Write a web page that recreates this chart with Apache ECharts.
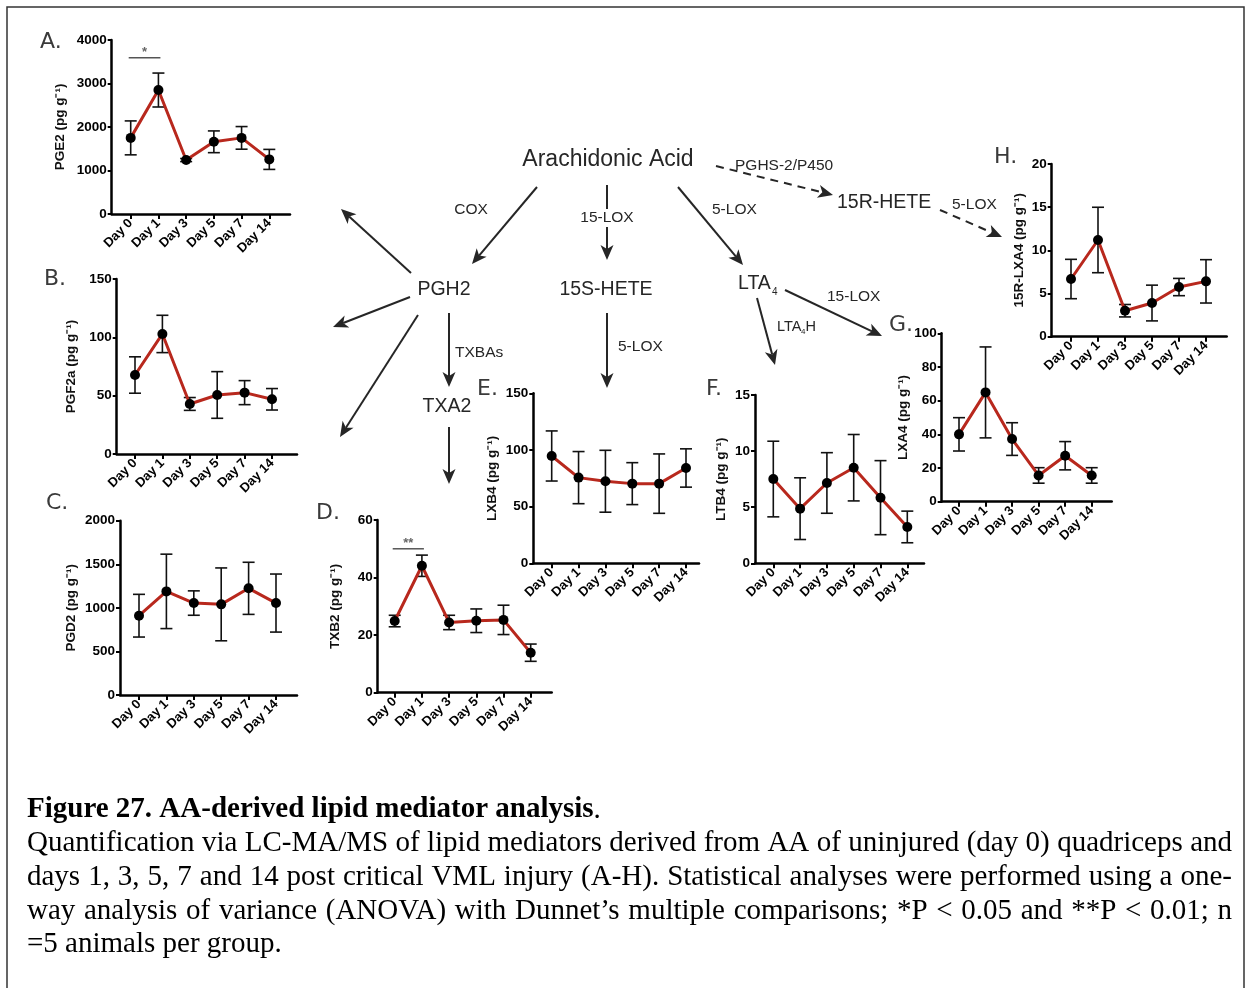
<!DOCTYPE html>
<html><head><meta charset="utf-8">
<script src="https://cdn.jsdelivr.net/npm/echarts@6/dist/echarts.min.js"></script>
<style>html,body{margin:0;padding:0;background:#fff}#c{width:1250px;height:988px}</style>
</head><body><div id="c"></div>
<script>
// ---------------- DATA ----------------
const days = ['Day 0', 'Day 1', 'Day 3', 'Day 5', 'Day 7', 'Day 14'];

const pge2Mean = [1750, 2850, 1240, 1660, 1750, 1255];
const pge2Err  = [390, 390, 35, 250, 260, 230];
const pge2Ticks = [0, 1000, 2000, 3000, 4000];

const pgf2aMean = [67.7, 102.9, 42.9, 50.6, 52.6, 46.9];
const pgf2aErr  = [15.6, 16.0, 5.5, 20.0, 10.3, 9.2];
const pgf2aTicks = [0, 50, 100, 150];

const pgd2Mean = [910, 1189, 1055, 1040, 1224, 1055];
const pgd2Err  = [245, 427, 140, 418, 299, 333];
const pgd2Ticks = [0, 500, 1000, 1500, 2000];

const txb2Mean = [24.9, 44.1, 24.4, 25.0, 25.3, 13.9];
const txb2Err  = [2.0, 3.7, 2.5, 4.1, 5.1, 3.0];
const txb2Ticks = [0, 20, 40, 60];

const lxb4Mean = [94.7, 75.6, 72.4, 70.3, 70.3, 84.1];
const lxb4Err  = [22.1, 23.0, 27.3, 18.5, 26.2, 16.9];
const lxb4Ticks = [0, 50, 100, 150];

const ltb4Mean = [7.51, 4.87, 7.16, 8.52, 5.85, 3.24];
const ltb4Err  = [3.37, 2.75, 2.70, 2.96, 3.30, 1.41];
const ltb4Ticks = [0, 5, 10, 15];

const lxa4Mean = [40.0, 64.9, 37.2, 15.6, 27.3, 15.6];
const lxa4Err  = [9.9, 27.0, 9.7, 4.6, 8.4, 4.6];
const lxa4Ticks = [0, 20, 40, 60, 80, 100];

const r15lxa4Mean = [6.68, 11.2, 3.01, 3.90, 5.75, 6.41];
const r15lxa4Err  = [2.28, 3.79, 0.72, 2.07, 1.00, 2.51];
const r15lxa4Ticks = [0, 5, 10, 15, 20];

// significance brackets: [fromIndex, toIndex, yValue, label]
const pge2Sig = [[0, 1, 3590, '*']];
const txb2Sig = [[0, 1, 50, '**']];

const panelLetters = ['A.', 'B.', 'C.', 'D.', 'E.', 'F.', 'G.', 'H.'];
const yTitles = ['PGE2', 'PGF2a', 'PGD2', 'TXB2', 'LXB4', 'LTB4', 'LXA4', '15R-LXA4'];

const captionTitle = 'Figure 27. AA-derived lipid mediator analysis';
const captionLines = [
  'Quantification via LC-MA/MS of lipid mediators derived from AA of uninjured (day 0) quadriceps and',
  'days 1, 3, 5, 7 and 14 post critical VML injury (A-H). Statistical analyses were performed using a one-',
  'way analysis of variance (ANOVA) with Dunnet\u2019s multiple comparisons; *P < 0.05 and **P < 0.01; n',
  '=5 animals per group.'
];

// ---------------- LAYOUT (pixels) ----------------
const panels = [
  {mean: pge2Mean,  err: pge2Err,  ticks: pge2Ticks,  sig: pge2Sig, L: {left:111.7, top:40,    right:290,   bottom:214,   x0:130.7, x14:269.3, gap:44, lx:40,  ly:42.5}},
  {mean: pgf2aMean, err: pgf2aErr, ticks: pgf2aTicks, sig: [],      L: {left:116.7, top:279,   right:297,   bottom:454,   x0:135,   x14:272,   gap:38, lx:44,  ly:279.5}},
  {mean: pgd2Mean,  err: pgd2Err,  ticks: pgd2Ticks,  sig: [],      L: {left:120,   top:520.7, right:297,   bottom:695,   x0:139,   x14:276,   gap:42, lx:46,  ly:503.5}},
  {mean: txb2Mean,  err: txb2Err,  ticks: txb2Ticks,  sig: txb2Sig, L: {left:377.7, top:520,   right:551.7, bottom:692.7, x0:394.7, x14:530.7, gap:35, lx:316, ly:513}},
  {mean: lxb4Mean,  err: lxb4Err,  ticks: lxb4Ticks,  sig: [],      L: {left:533.3, top:393.3, right:699,   bottom:563.3, x0:551.7, x14:686,   gap:34, lx:477, ly:389}},
  {mean: ltb4Mean,  err: ltb4Err,  ticks: ltb4Ticks,  sig: [],      L: {left:755,   top:395,   right:924,   bottom:563.3, x0:773.3, x14:907.3, gap:27, lx:706, ly:389}},
  {mean: lxa4Mean,  err: lxa4Err,  ticks: lxa4Ticks,  sig: [],      L: {left:941.7, top:333.3, right:1111.7,bottom:501.7, x0:959,   x14:1091.7,gap:29, lx:889, ly:325}},
  {mean: r15lxa4Mean, err: r15lxa4Err, ticks: r15lxa4Ticks, sig: [], L: {left:1051.7, top:164,  right:1226.7,bottom:336.7, x0:1071,  x14:1206,  gap:25, lx:994, ly:157}}
];

const AX = '#000';
const RED = '#b8281d';
const SANS = '"Liberation Sans", Arial, sans-serif';

function errorBar(params, api) {
  const x = api.value(0);
  const lo = api.coord([x, api.value(1)]);
  const hi = api.coord([x, api.value(2)]);
  const hw = 6;
  const st = {stroke: '#111', lineWidth: 1.6};
  return {type: 'group', children: [
    {type: 'line', shape: {x1: lo[0], y1: lo[1], x2: hi[0], y2: hi[1]}, style: st},
    {type: 'line', shape: {x1: lo[0] - hw, y1: lo[1], x2: lo[0] + hw, y2: lo[1]}, style: st},
    {type: 'line', shape: {x1: hi[0] - hw, y1: hi[1], x2: hi[0] + hw, y2: hi[1]}, style: st}
  ]};
}
function sigBar(params, api) {
  const a = api.coord([api.value(0), api.value(2)]);
  const b = api.coord([api.value(1), api.value(2)]);
  const lab = params.context.labels[params.dataIndex];
  return {type: 'group', children: [
    {type: 'line', shape: {x1: a[0] - 2, y1: a[1], x2: b[0] + 2, y2: b[1]}, style: {stroke: '#555', lineWidth: 1.5}},
    {type: 'text', x: (a[0] + b[0]) / 2, y: a[1] + 1, style: {text: lab, font: 'bold 13px ' + SANS, fill: '#666', align: 'center', verticalAlign: 'bottom'}}
  ]};
}

const grids = [], xAxes = [], yAxes = [], series = [];
panels.forEach((p, i) => {
  const L = p.L;
  const s = (L.x14 - L.x0) / 5;
  grids.push({left: L.left, top: L.top, width: L.right - L.left, height: L.bottom - L.top, containLabel: false, outerBoundsMode: 'none'});
  const idx = days.map((d, j) => j);
  xAxes.push({
    gridIndex: i, type: 'value', min: -(L.x0 - L.left) / s, max: 5 + (L.right - L.x14) / s,
    axisLine: {show: true, onZero: false, lineStyle: {color: AX, width: 2.5}},
    axisTick: {show: true, customValues: idx, length: 5, lineStyle: {color: AX, width: 2}},
    axisLabel: {customValues: idx, formatter: v => days[Math.round(v)], rotate: 45, margin: 7,
      fontFamily: SANS, fontWeight: 'bold', fontSize: 13, color: '#000'},
    splitLine: {show: false}
  });
  const t = p.ticks;
  yAxes.push({
    gridIndex: i, type: 'value', min: t[0], max: t[t.length - 1], interval: t[1] - t[0],
    name: yTitles[i] + ' (pg g\u207B\u00B9)', nameLocation: 'middle', nameGap: L.gap, nameRotate: 90,
    nameTextStyle: {fontFamily: SANS, fontWeight: 'bold', fontSize: 13.5, color: '#111'},
    axisLine: {show: true, onZero: false, lineStyle: {color: AX, width: 2.5}},
    axisTick: {show: true, length: 4, lineStyle: {color: AX, width: 2}},
    axisLabel: {formatter: v => String(v), margin: 5, fontFamily: SANS, fontWeight: 'bold', fontSize: 13.5, color: '#000'},
    splitLine: {show: false}
  });
  series.push({
    type: 'custom', xAxisIndex: i, yAxisIndex: i, renderItem: errorBar, z: 2, silent: true,
    encode: {x: 0, y: [1, 2]},
    data: p.mean.map((m, j) => [j, m - p.err[j], m + p.err[j]])
  });
  series.push({
    type: 'line', xAxisIndex: i, yAxisIndex: i, z: 3, silent: true,
    data: p.mean.map((m, j) => [j, m]),
    symbol: 'circle', symbolSize: 10, showAllSymbol: true,
    itemStyle: {color: '#000'}, lineStyle: {color: RED, width: 3}, emphasis: {disabled: true}
  });
  if (p.sig.length) {
    const labels = p.sig.map(d => d[3]);
    series.push({
      type: 'custom', xAxisIndex: i, yAxisIndex: i, z: 4, silent: true,
      renderItem: (params, api) => { params.context.labels = labels; return sigBar(params, api); },
      data: p.sig.map(d => [d[0], d[1], d[2]])
    });
  }
});

// ---------------- graphic: letters, pathway diagram, caption ----------------
const graphic = [];
graphic.push({type: 'rect', shape: {x: 7, y: 7, width: 1237, height: 1000}, style: {fill: 'none', stroke: '#333', lineWidth: 1.5}, z: 0});
panels.forEach((p, i) => {
  graphic.push({type: 'text', x: p.L.lx, y: p.L.ly, style: {text: panelLetters[i], font: '22px "DejaVu Sans", sans-serif', fill: '#3a3a3a', verticalAlign: 'middle'}});
});

const DC = '#262626';
function arrow(x1, y1, x2, y2, dashed) {
  const dx = x2 - x1, dy = y2 - y1, len = Math.hypot(dx, dy), ux = dx / len, uy = dy / len, px = -uy, py = ux;
  const Lh = 15, W = 6.5, notch = 4;
  const bx = x2 - ux * Lh, by = y2 - uy * Lh;
  const nx = x2 - ux * (Lh - notch), ny = y2 - uy * (Lh - notch);
  return [
    {type: 'line', shape: {x1, y1, x2: nx, y2: ny}, style: {stroke: DC, lineWidth: 2, lineDash: dashed ? [8, 6] : null}},
    {type: 'polygon', shape: {points: [[x2, y2], [bx + px * W, by + py * W], [nx, ny], [bx - px * W, by - py * W]]}, style: {fill: DC}}
  ];
}
function txt(t, x, y, size, align, bg) {
  const st = {text: t, font: size + 'px ' + SANS, fill: DC, align: align || 'left', verticalAlign: 'middle'};
  if (bg) { st.backgroundColor = '#fff'; st.padding = [1, 0, 1, 0]; }
  return {type: 'text', x, y, z: 10, style: st};
}
[
  [537, 187, 472, 264], [607, 185, 607, 260], [678, 187, 743, 265],
  [411, 273, 341, 209], [410, 297, 333, 327], [418, 315, 340, 437],
  [449, 313, 449, 387], [449, 427, 449, 484], [607, 313, 607, 388],
  [757, 298, 775, 365], [785, 290, 882, 336]
].forEach(a => graphic.push(...arrow(a[0], a[1], a[2], a[3], false)));
graphic.push(...arrow(716, 166, 833, 195, true));
graphic.push(...arrow(940, 210, 1002, 237, true));

graphic.push(txt('Arachidonic Acid', 608, 160, 23, 'center'));
graphic.push(txt('COX', 471, 210, 15.5, 'center'));
graphic.push(txt('15-LOX', 607, 218, 15.5, 'center', true));
graphic.push(txt('5-LOX', 712, 210, 15.5));
graphic.push(txt('PGH2', 444, 290, 19.5, 'center'));
graphic.push(txt('15S-HETE', 606, 290, 19.5, 'center'));
graphic.push(txt('LTA', 738, 284, 19.5));
graphic.push(txt('4', 772, 292, 10));
graphic.push(txt('LTA', 777, 327, 14.5));
graphic.push(txt('4', 801, 332, 8));
graphic.push(txt('H', 805.5, 327, 14.5));
graphic.push(txt('TXBAs', 455, 353, 15.5));
graphic.push(txt('TXA2', 447, 407, 19.5, 'center'));
graphic.push(txt('5-LOX', 618, 347, 15.5));
graphic.push(txt('15-LOX', 827, 297, 15.5));
graphic.push(txt('PGHS-2/P450', 735, 166, 15.5));
graphic.push(txt('15R-HETE', 837, 203, 19.5));
graphic.push(txt('5-LOX', 952, 205, 15.5));

// caption
const SERIF = '"Liberation Serif", "Times New Roman", serif';
const capSize = 29, capLeft = 27, capRight = 1232;
graphic.push({type: 'text', x: capLeft, y: 810, style: {
  text: '{b|' + captionTitle + '}{n|.}', verticalAlign: 'middle', fill: '#000',
  rich: {b: {font: 'bold ' + capSize + 'px ' + SERIF, fill: '#000'}, n: {font: capSize + 'px ' + SERIF, fill: '#000'}}
}});
const mctx = document.createElement('canvas').getContext('2d');
mctx.font = capSize + 'px ' + SERIF;
const lineY = [843, 877, 911, 944.5];
captionLines.forEach((line, li) => {
  const words = line.split(' ');
  const widths = words.map(w => mctx.measureText(w).width);
  const total = widths.reduce((a, b) => a + b, 0);
  const just = li < captionLines.length - 1;
  const gap = just ? (capRight - capLeft - total) / (words.length - 1) : mctx.measureText(' ').width;
  let x = capLeft;
  words.forEach((w, k) => {
    graphic.push({type: 'text', x, y: lineY[li], style: {text: w, font: capSize + 'px ' + SERIF, fill: '#000', verticalAlign: 'middle'}});
    x += widths[k] + gap;
  });
});

const chart = echarts.init(document.getElementById('c'), null, {renderer: 'canvas'});
chart.setOption({
  animation: false,
  backgroundColor: '#fff',
  grid: grids, xAxis: xAxes, yAxis: yAxes, series: series,
  graphic: {elements: graphic}
});
</script></body></html>
